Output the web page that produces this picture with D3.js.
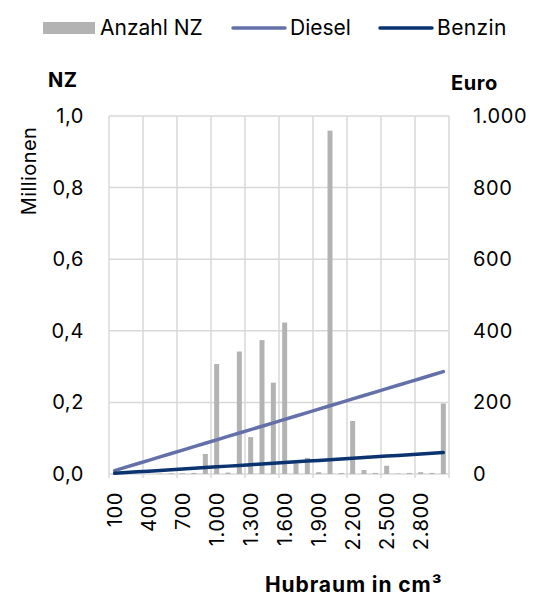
<!DOCTYPE html>
<html>
<head>
<meta charset="utf-8">
<script src="https://cdn.jsdelivr.net/npm/d3@7"></script>
<style>
  html, body { margin: 0; padding: 0; background: #fff; }
  svg text { font-family: Inter, Lato, "Open Sans", sans-serif; fill: #000; }
  .tick { letter-spacing: 0.6px; }
</style>
</head>
<body>
<svg id="chart" width="536" height="596"></svg>
<script>
// Hubraum-Klassen (cm³)
const hubraum = [100, 200, 300, 400, 500, 600, 700, 800, 900, 1000,
                 1100, 1200, 1300, 1400, 1500, 1600, 1700, 1800, 1900, 2000,
                 2100, 2200, 2300, 2400, 2500, 2600, 2700, 2800, 2900, 3000];
// Anzahl Neuzulassungen (Millionen)
const anzahlNZ = [0, 0, 0, 0, 0.001, 0.002, 0.002, 0.003, 0.056, 0.307,
                  0.004, 0.342, 0.103, 0.374, 0.255, 0.423, 0.030, 0.045, 0.005, 0.959,
                  0.003, 0.148, 0.011, 0.003, 0.023, 0.001, 0.003, 0.005, 0.003, 0.197];
// Steuer Diesel (Euro)
const diesel = [9.5, 19.1, 28.6, 38.1, 47.7, 57.2, 66.7, 76.3, 85.8, 95.3,
                104.9, 114.4, 123.9, 133.5, 143.0, 152.5, 162.1, 171.6, 181.1, 190.7,
                200.2, 209.7, 219.3, 228.8, 238.3, 247.9, 257.4, 266.9, 276.5, 286.0];
// Steuer Benzin (Euro)
const benzin = [2, 4, 6, 8, 10, 12, 14, 16, 18, 20,
                22, 24, 26, 28, 30, 32, 34, 36, 38, 40,
                42, 44, 46, 48, 50, 52, 54, 56, 58, 60];
const leftTicks = [0, 0.2, 0.4, 0.6, 0.8, 1.0];
const rightTicks = [0, 200, 400, 600, 800, 1000];
const xLabelEvery = 3;

const colors = { bar: "#b3b3b3", diesel: "#6471a8", benzin: "#0b3370", grid: "#d9d9d9" };

const svg = d3.select("#chart");
const m = { left: 109, right: 449, top: 116, bottom: 474 };

const x = d3.scaleBand().domain(hubraum).range([m.left, m.right]).paddingInner(0).paddingOuter(0);
const yL = d3.scaleLinear().domain([0, 1]).range([m.bottom, m.top]);
const yR = d3.scaleLinear().domain([0, 1000]).range([m.bottom, m.top]);

const fmtDE = d3.formatLocale({ decimal: ",", thousands: ".", grouping: [3], currency: ["", "€"] });
const fmtL = fmtDE.format(".1f");
const fmtR = fmtDE.format(",.0f");

// horizontal grid
svg.append("g").selectAll("line").data(leftTicks).join("line")
  .attr("x1", m.left).attr("x2", m.right)
  .attr("y1", d => yL(d)).attr("y2", d => yL(d))
  .attr("stroke", colors.grid).attr("stroke-width", 1.5);

// vertical grid every third class
const vIdx = d3.range(0, hubraum.length + 1, xLabelEvery);
svg.append("g").selectAll("line").data(vIdx).join("line")
  .attr("x1", i => m.left + i * x.step()).attr("x2", i => m.left + i * x.step())
  .attr("y1", m.top).attr("y2", m.bottom + 4)
  .attr("stroke", colors.grid).attr("stroke-width", 1.5);

// bars
const barW = 5;
svg.append("g").selectAll("rect").data(hubraum).join("rect")
  .attr("x", (d) => x(d) + x.bandwidth() / 2 - barW / 2)
  .attr("width", barW)
  .attr("y", (d, i) => yL(anzahlNZ[i]))
  .attr("height", (d, i) => m.bottom - yL(anzahlNZ[i]))
  .attr("fill", colors.bar);

// lines
const line = vals => d3.line()
  .x((d, i) => x(hubraum[i]) + x.bandwidth() / 2)
  .y(d => yR(d))(vals);
svg.append("path").attr("d", line(diesel)).attr("fill", "none")
  .attr("stroke", colors.diesel).attr("stroke-width", 3.5).attr("stroke-linecap", "round");
svg.append("path").attr("d", line(benzin)).attr("fill", "none")
  .attr("stroke", colors.benzin).attr("stroke-width", 3.5).attr("stroke-linecap", "round");

// left axis labels
svg.append("g").selectAll("text").data(leftTicks).join("text").attr("class", "tick")
  .attr("x", 84).attr("y", d => yL(d)).attr("dy", "0.35em")
  .attr("text-anchor", "end").attr("font-size", 20).text(d => fmtL(d));

// right axis labels
svg.append("g").selectAll("text").data(rightTicks).join("text").attr("class", "tick")
  .attr("x", 473).attr("y", d => yR(d)).attr("dy", "0.35em")
  .attr("text-anchor", "start").attr("font-size", 20).text(d => fmtR(d));

// x labels
const xLab = hubraum.filter((d, i) => i % xLabelEvery === 0);
svg.append("g").selectAll("text").data(xLab).join("text").attr("class", "tick")
  .attr("transform", d => `translate(${x(d) + x.bandwidth() / 2},492) rotate(-90)`)
  .attr("dy", "0.35em").attr("text-anchor", "end").attr("font-size", 20)
  .text(d => fmtR(d));

// axis titles
svg.append("text").attr("x", 48).attr("y", 87).attr("font-size", 20).attr("font-weight", "bold")
  .attr("letter-spacing", "0.4px").text("NZ");
svg.append("text").attr("x", 451).attr("y", 90).attr("font-size", 20).attr("font-weight", "bold")
  .attr("letter-spacing", "0.6px").text("Euro");
svg.append("text").attr("transform", "translate(29,171) rotate(-90)").attr("dy", "0.35em")
  .attr("text-anchor", "middle").attr("font-size", 20).attr("letter-spacing", "0.4px").text("Millionen");
svg.append("text").attr("x", 265).attr("y", 592).attr("font-size", 21).attr("font-weight", "bold")
  .attr("letter-spacing", "0.9px").text("Hubraum in cm³");

// legend
const lg = svg.append("g");
lg.append("rect").attr("x", 43).attr("y", 22).attr("width", 52).attr("height", 12).attr("fill", colors.bar);
lg.append("text").attr("x", 100).attr("y", 35).attr("font-size", 21).text("Anzahl NZ");
lg.append("line").attr("x1", 233).attr("x2", 285).attr("y1", 28).attr("y2", 28)
  .attr("stroke", colors.diesel).attr("stroke-width", 3.5).attr("stroke-linecap", "round");
lg.append("text").attr("x", 290).attr("y", 35).attr("font-size", 21).text("Diesel");
lg.append("line").attr("x1", 380).attr("x2", 432).attr("y1", 28).attr("y2", 28)
  .attr("stroke", colors.benzin).attr("stroke-width", 3.5).attr("stroke-linecap", "round");
lg.append("text").attr("x", 437).attr("y", 35).attr("font-size", 21).attr("letter-spacing", "0.4px").text("Benzin");
</script>
</body>
</html>
